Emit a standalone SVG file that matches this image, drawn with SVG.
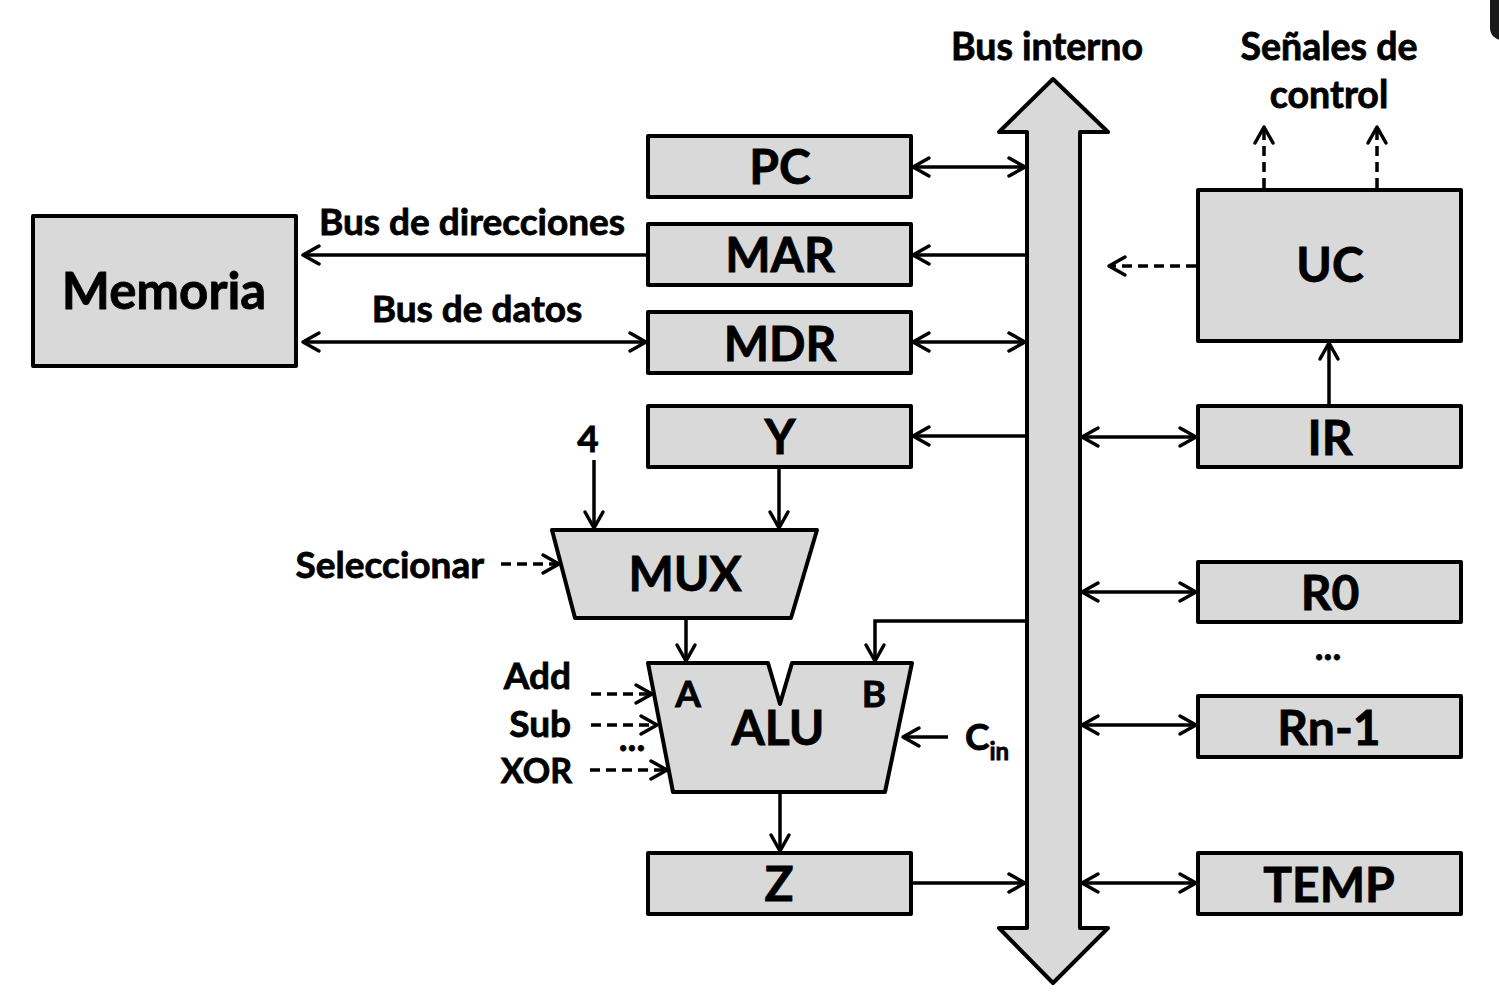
<svg xmlns="http://www.w3.org/2000/svg" width="1499" height="994" viewBox="0 0 1499 994">
<defs>
<marker id="ah" viewBox="-20 -12 24 24" refX="0" refY="0" markerWidth="24" markerHeight="24" markerUnits="userSpaceOnUse" orient="auto-start-reverse">
<path d="M-16,-9 L0,0 L-16,9" fill="none" stroke="#000" stroke-width="3.5" stroke-linecap="round" stroke-linejoin="round"/>
</marker>
</defs>
<style>
.box{fill:#d9d9d9;stroke:#000;stroke-width:4;stroke-linejoin:round}
.lbl{font-family:Lato,"Liberation Sans",sans-serif;font-weight:bold;fill:#000;stroke:#000;stroke-width:0.8;text-anchor:middle}
.big{font-size:48px}
.sm{font-size:37px}
.md{font-size:37.5px}
.ln{fill:none;stroke:#000;stroke-width:3.5}
.da{fill:none;stroke:#000;stroke-width:3.5;stroke-dasharray:10 6}
.a1{marker-end:url(#ah)}
.a2{marker-start:url(#ah);marker-end:url(#ah)}
</style>
<rect width="1499" height="994" fill="#fff"/>
<rect x="1490" y="-20" width="30" height="60" rx="12" fill="#1a1a1a"/>

<g id="bus">
<path class="box" d="M1053,79 L1108,132 L1080,132 L1080,928 L1108,928 L1053,983 L999,928 L1027,928 L1027,132 L999,132 Z"/>
<text class="lbl md" x="1047" y="60">Bus interno</text>
</g>

<g id="memoria">
<rect class="box" x="33" y="216" width="263" height="150"/>
<text class="lbl" x="164" y="309" font-size="51">Memoria</text>
</g>

<g id="pc"><rect class="box" x="648" y="136" width="263" height="61"/><text class="lbl big" x="780" y="184">PC</text></g>
<g id="mar"><rect class="box" x="648" y="224" width="263" height="61"/><text class="lbl big" x="780" y="272">MAR</text></g>
<g id="mdr"><rect class="box" x="648" y="312" width="263" height="61"/><text class="lbl big" x="780" y="361">MDR</text></g>
<g id="y"><rect class="box" x="648" y="406" width="263" height="61"/><text class="lbl big" x="780" y="454">Y</text></g>
<g id="z"><rect class="box" x="648" y="853" width="263" height="61"/><text class="lbl big" x="779" y="901">Z</text></g>

<g id="mux">
<path class="box" d="M552,530 L817,530 L791,618 L575,618 Z"/>
<text class="lbl big" x="685" y="591">MUX</text>
</g>

<g id="alu">
<path class="box" d="M648,663 L768,663 L780,704 L792,663 L912,663 L885,792 L673,792 Z"/>
<text class="lbl big" x="778" y="745">ALU</text>
<text class="lbl sm" x="688" y="707">A</text>
<text class="lbl sm" x="874" y="707">B</text>
</g>

<g id="uc"><rect class="box" x="1198" y="190" width="263" height="151"/><text class="lbl big" x="1330" y="282">UC</text></g>
<g id="ir"><rect class="box" x="1198" y="406" width="263" height="61"/><text class="lbl big" x="1330" y="455">IR</text></g>
<g id="r0"><rect class="box" x="1198" y="562" width="263" height="60"/><text class="lbl big" x="1330" y="610">R0</text></g>
<g id="rn1"><rect class="box" x="1198" y="696" width="263" height="61"/><text class="lbl big" x="1329" y="745">Rn-1</text></g>
<g id="temp"><rect class="box" x="1198" y="853" width="263" height="61"/><text class="lbl big" x="1329" y="902">TEMP</text></g>

<g id="labels">
<text class="lbl sm" x="472" y="235">Bus de direcciones</text>
<text class="lbl sm" x="477" y="322">Bus de datos</text>
<text class="lbl md" x="1329" y="60">Señales de</text>
<text class="lbl md" x="1329" y="108">control</text>
<text class="lbl sm" x="588" y="452">4</text>
<text class="lbl sm" x="484" y="578" style="text-anchor:end">Seleccionar</text>
<text class="lbl sm" x="571" y="689" style="text-anchor:end">Add</text>
<text class="lbl sm" x="571" y="737" style="text-anchor:end">Sub</text>
<text class="lbl" x="572" y="783" font-size="34" style="text-anchor:end">XOR</text>
<text class="lbl sm" x="632" y="751">...</text>
<text class="lbl sm" x="1328" y="660">...</text>
<text class="lbl sm" x="965" y="750" style="text-anchor:start">C<tspan font-size="24" dy="10">in</tspan></text>
</g>

<g id="connectors">
<line class="ln a2" x1="913" y1="167" x2="1025" y2="167"/>
<line class="ln a1" x1="1027" y1="255" x2="913" y2="255"/>
<line class="ln a2" x1="913" y1="342" x2="1025" y2="342"/>
<line class="ln a1" x1="1027" y1="436" x2="913" y2="436"/>
<line class="ln a1" x1="911" y1="883" x2="1025" y2="883"/>
<line class="ln a1" x1="646" y1="255" x2="303" y2="255"/>
<line class="ln a2" x1="303" y1="342" x2="646" y2="342"/>
<line class="ln a2" x1="1082" y1="437" x2="1196" y2="437"/>
<line class="ln a2" x1="1082" y1="592" x2="1196" y2="592"/>
<line class="ln a2" x1="1082" y1="725" x2="1196" y2="725"/>
<line class="ln a2" x1="1082" y1="883" x2="1196" y2="883"/>
<line class="ln a1" x1="1329" y1="406" x2="1329" y2="343"/>
<line class="da a1" x1="1196" y1="266" x2="1109" y2="266"/>
<line class="da a1" x1="1264" y1="188" x2="1264" y2="127"/>
<line class="da a1" x1="1377" y1="188" x2="1377" y2="127"/>
<line class="ln a1" x1="594" y1="460" x2="594" y2="528"/>
<line class="ln a1" x1="779" y1="469" x2="779" y2="528"/>
<line class="da a1" x1="501" y1="564" x2="559" y2="564"/>
<line class="ln a1" x1="686" y1="620" x2="686" y2="661"/>
<path class="ln a1" d="M1027,621 L875,621 L875,661"/>
<line class="ln a1" x1="948" y1="737" x2="903" y2="737"/>
<line class="da a1" x1="591" y1="694" x2="652" y2="694"/>
<line class="da a1" x1="591" y1="725" x2="657" y2="725"/>
<line class="da a1" x1="590" y1="770" x2="667" y2="770"/>
<line class="ln a1" x1="780" y1="794" x2="780" y2="851"/>
</g>
</svg>
